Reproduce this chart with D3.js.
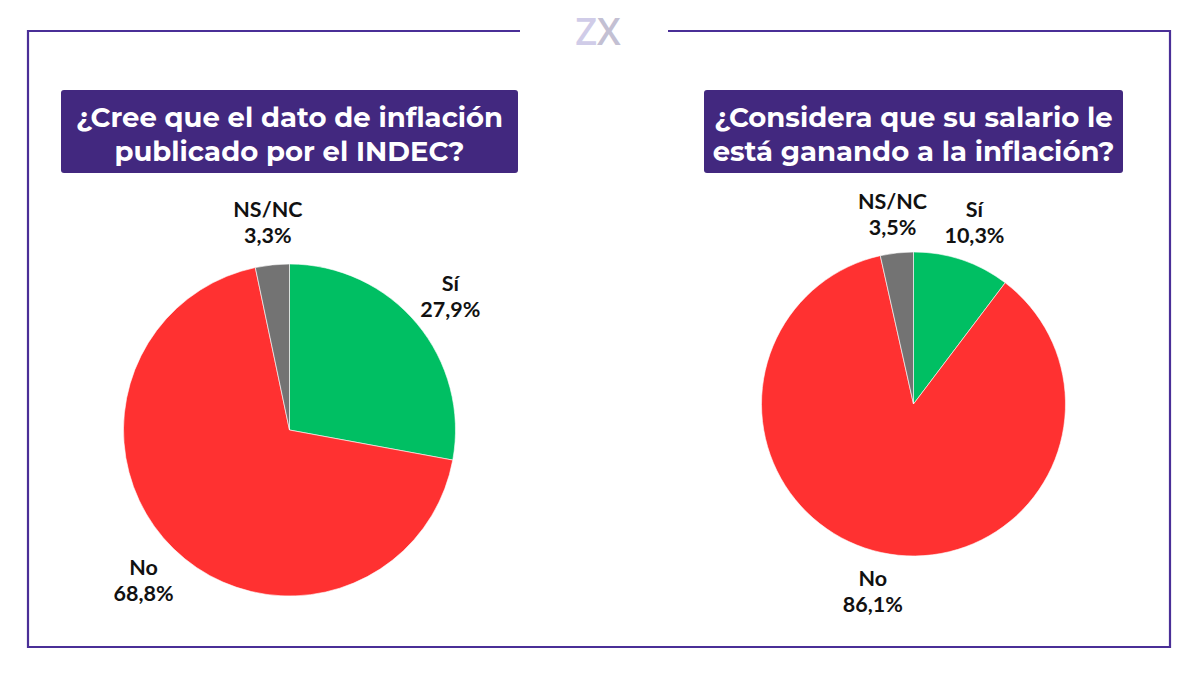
<!DOCTYPE html>
<html><head><meta charset="utf-8">
<script src="https://cdn.jsdelivr.net/npm/d3@7"></script>
<style>body{margin:0;background:#fff}svg{display:block}</style>
</head><body>
<svg id="c" width="1200" height="675"></svg>
<script>
const categories = ["Sí", "No", "NS/NC"];
const seriesLeft = [27.9, 68.8, 3.3];
const seriesRight = [10.3, 86.1, 3.5];
const titleLeft = ["¿Cree que el dato de inflación", "publicado por el INDEC?"];
const titleRight = ["¿Considera que su salario le", "está ganando a la inflación?"];
const colors = ["#00bf63", "#ff3131", "#737373"];

const svg = d3.select("#c");
const purple = "#42287f";

// frame with gap for logo
svg.append("path")
  .attr("d", "M520,31 H28 V647 H1170 V31 H668")
  .attr("fill","none").attr("stroke","#4a2f97").attr("stroke-width",2.2);
svg.append("text").attr("x",598).attr("y",45).attr("text-anchor","middle")
  .attr("font-family","'Open Sans', sans-serif").attr("font-weight",600)
  .attr("font-size",38)
  .selectAll("tspan").data(["Z","X"]).join("tspan")
  .attr("fill",(d,i)=>i?"#c3c0d3":"#d0cce8").text(d=>d);

const color = d3.scaleOrdinal().domain(categories).range(colors);
const fmt = v => d3.format(".1f")(v).replace(".", ",") + "%";

function drawPie(cx, cy, r, values, title, box) {
  const g = svg.append("g").attr("transform", `translate(${cx},${cy})`);
  const data = categories.map((c,i)=>({cat:c, v:values[i]}));
  const pie = d3.pie().value(d=>d.v).sort(null);
  const arcs = pie(data);
  const arc = d3.arc().innerRadius(0).outerRadius(r);
  g.selectAll("path.s").data(arcs).join("path").attr("class","s")
    .attr("d", arc).attr("fill", d=>color(d.data.cat))
    .attr("stroke","#fff").attr("stroke-width",0.6);
  const lab = d3.arc().innerRadius(r*1.26).outerRadius(r*1.26);
  const lg = g.selectAll("g.l").data(arcs).join("g").attr("class","l")
    .attr("transform", d=>`translate(${lab.centroid(d)})`)
    .attr("text-anchor","middle")
    .attr("font-family","Lato, sans-serif").attr("font-weight",700)
    .attr("font-size",21.5).attr("fill","#111");
  lg.append("text").attr("y",-5).text(d=>d.data.cat);
  lg.append("text").attr("y",21).text(d=>fmt(d.data.v));

  svg.append("rect").attr("x",box[0]).attr("y",box[1]).attr("width",box[2]).attr("height",box[3])
    .attr("rx",3).attr("fill",purple);
  const bx = box[0]+box[2]/2;
  svg.append("g").attr("text-anchor","middle")
    .attr("font-family","Montserrat, 'Open Sans', sans-serif").attr("font-weight",700)
    .attr("font-size",27.5).attr("fill","#fff")
    .selectAll("text").data(title).join("text")
    .attr("x",bx).attr("y",(d,i)=>box[1]+37+i*34).text(d=>d);
}

drawPie(289.5, 430, 166, seriesLeft, titleLeft, [61,90,457,83]);
drawPie(913.5, 404, 152, seriesRight, titleRight, [704,90,419,83]);
</script>
</body></html>
